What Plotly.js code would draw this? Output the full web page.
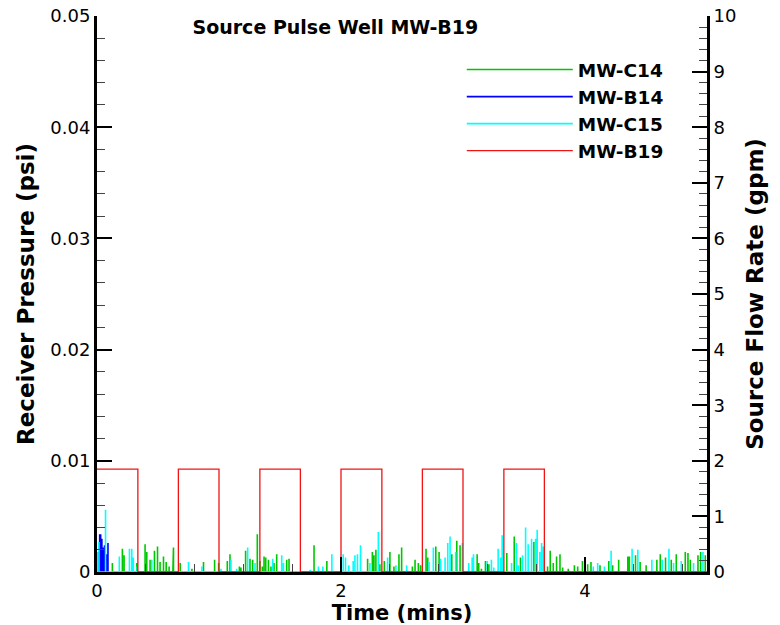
<!DOCTYPE html>
<html>
<head>
<meta charset="utf-8">
<script src="https://cdn.plot.ly/plotly-3.0.1.min.js"></script>
<style>html,body{margin:0;padding:0;background:#fff;}#chart{width:780px;height:625px;}</style>
</head>
<body>
<div id="chart"></div>
<script>
// ---- Data ----
// Receiver pressure spikes (time in mins, pressure in psi)
var c14Time = [0.126,0.208,0.222,0.326,0.394,0.408,0.435,0.471,0.496,0.517,0.545,0.567,0.591,0.622,0.627,0.682,0.778,0.873,0.964,0.997,
  1.068,1.090,1.167,1.180,1.218,1.254,1.276,1.314,1.336,1.355,1.369,1.383,1.405,1.426,1.451,1.473,1.555,1.574,1.630,1.779,1.884,
  2.218,2.257,2.270,2.286,2.319,2.355,2.401,2.434,2.475,2.497,2.585,2.607,2.634,2.653,2.697,2.711,2.777,2.804,2.908,2.949,2.976,
  3.116,3.129,3.151,3.184,3.212,3.359,3.420,3.471,3.581,3.693,3.715,3.740,3.767,3.795,3.817,3.863,3.913,3.940,3.979,
  4.022,4.049,4.123,4.195,4.227,4.276,4.351,4.364,4.414,4.452,4.501,4.589,4.617,4.660,4.707,4.748,4.822,4.844,4.863,4.926,4.948,4.986];
var c14Psi = [0.0008,0.0021,0.0015,0.0008,0.0025,0.0018,0.0011,0.0019,0.0023,0.0009,0.0014,0.0009,0.0005,0.0012,0.0022,0.0008,0.0003,0.0009,0.0011,0.0008,
  0.0010,0.0016,0.0005,0.0004,0.0019,0.0012,0.0011,0.0034,0.0010,0.0005,0.0014,0.0013,0.0011,0.0005,0.0008,0.0016,0.0011,0.0012,0.0001,0.0024,0.0010,
  0.0012,0.0018,0.0015,0.0020,0.0007,0.0010,0.0018,0.0005,0.0016,0.0022,0.0005,0.0011,0.0008,0.0006,0.0021,0.0013,0.0023,0.0018,0.0016,0.0028,0.0024,
  0.0016,0.0008,0.0003,0.0010,0.0007,0.0017,0.0032,0.0013,0.0027,0.0005,0.0019,0.0008,0.0014,0.0016,0.0004,0.0003,0.0006,0.0005,0.0010,
  0.0007,0.0009,0.0006,0.0010,0.0006,0.0011,0.0014,0.0014,0.0015,0.0009,0.0006,0.0011,0.0016,0.0013,0.0011,0.0016,0.0018,0.0017,0.0011,0.0015,0.0018,0.0015];

var b14Time = [0.012,0.022,0.030,0.040,0.052,0.062,0.078,0.090];
var b14Psi  = [0.0018,0.0034,0.0034,0.0030,0.0022,0.0024,0.0016,0.0026];

var c15Time = [0.016,0.070,0.183,0.266,0.285,0.298,0.330,0.449,0.750,0.860,
  1.016,1.098,1.145,1.235,1.295,1.440,1.514,1.528,1.747,1.815,1.851,1.925,
  2.018,2.037,2.064,2.100,2.114,2.135,2.160,2.237,2.306,2.382,2.450,2.538,2.722,2.757,2.817,2.853,2.875,2.894,2.940,2.995,
  3.047,3.075,3.086,3.198,3.233,3.252,3.288,3.310,3.321,3.398,3.439,3.453,3.488,3.513,3.534,3.562,3.595,3.608,3.630,3.644,3.658,
  4.068,4.104,4.159,4.214,4.386,4.433,4.548,4.633,4.688,4.726,4.789,4.890,4.967];
var c15Psi = [0.0027,0.0056,0.0014,0.0021,0.0021,0.0013,0.0005,0.0011,0.0009,0.0005,
  0.0003,0.0011,0.0003,0.0022,0.0008,0.0012,0.0015,0.0008,0.0002,0.0005,0.0005,0.0016,
  0.0016,0.0013,0.0006,0.0010,0.0015,0.0016,0.0024,0.0008,0.0036,0.0013,0.0006,0.0006,0.0009,0.0022,0.0012,0.0013,0.0026,0.0032,0.0018,0.0026,
  0.0008,0.0013,0.0016,0.0010,0.0011,0.0004,0.0021,0.0013,0.0033,0.0008,0.0026,0.0006,0.0015,0.0040,0.0025,0.0030,0.0030,0.0038,0.0018,0.0026,0.0023,
  0.0005,0.0008,0.0005,0.0019,0.0021,0.0020,0.0011,0.0011,0.0021,0.0008,0.0010,0.0008,0.0018];

// Source flow rate at MW-B19 (gpm), step function
var flowTime = [0, 0.335, 0.667, 1.0, 1.335, 1.667, 2.0, 2.335, 2.667, 3.0, 3.335, 3.667, 5.0];
var flowRate = [1.85, 0, 1.85, 0, 1.85, 0, 1.85, 0, 1.85, 0, 1.85, 0, 0];

var xTickVals = [0, 2, 4];
var xTickText = ['0', '2', '4'];

// ---- Build spike traces from the data ----
function spikes(times, vals) {
  var x = [], y = [];
  for (var i = 0; i < times.length; i++) {
    x.push(times[i], times[i], times[i]);
    y.push(0, vals[i], 0);
  }
  return {x: x, y: y};
}
var sC14 = spikes(c14Time, c14Psi);
var sB14 = spikes(b14Time, b14Psi);
var sC15 = spikes(c15Time, c15Psi);

var FONT = 'DejaVu Sans, Arial, sans-serif';

var traces = [
  {x: sC14.x, y: sC14.y, type: 'scatter', mode: 'lines', name: 'MW-C14',
   line: {color: 'rgb(0,200,0)', width: 1.6}},
  {x: sB14.x, y: sB14.y, type: 'scatter', mode: 'lines', name: 'MW-B14',
   line: {color: 'rgb(0,0,255)', width: 1.6}},
  {x: sC15.x, y: sC15.y, type: 'scatter', mode: 'lines', name: 'MW-C15',
   line: {color: 'rgb(0,255,255)', width: 1.6}},
  {x: flowTime, y: flowRate, type: 'scatter', mode: 'lines', name: 'MW-B19', yaxis: 'y2',
   line: {color: 'rgb(240,20,20)', width: 1.3, shape: 'hv'}}
];

var layout = {
  width: 780, height: 625,
  margin: {l: 97, r: 73, t: 16, b: 53},
  paper_bgcolor: '#fff', plot_bgcolor: '#fff',
  font: {family: FONT, color: '#000', size: 18},
  title: {text: 'Source Pulse Well MW-B19', x: 0.43, xanchor: 'center', y: 0.957, yanchor: 'middle',
          font: {family: FONT, size: 19, weight: 'bold', color: '#000'}},
  showlegend: true,
  legend: {x: 0.598, xanchor: 'left', y: 0.937, yanchor: 'top', bgcolor: 'rgba(0,0,0,0)',
           itemwidth: 106, tracegroupgap: 0,
           font: {family: FONT, size: 18.5, weight: 'bold', color: '#000'}},
  xaxis: {
    range: [0, 5], tickmode: 'array', tickvals: xTickVals, ticktext: xTickText,
    ticks: 'inside', ticklen: 15, tickwidth: 2, tickcolor: '#000',
    minor: {dtick: 0.4, ticks: 'inside', ticklen: 8, tickwidth: 1, tickcolor: '#444'},
    showline: true, linewidth: 3, linecolor: '#000', showgrid: false, zeroline: false,
    tickfont: {family: FONT, size: 18},
    title: {text: 'Time (mins)', standoff: 0, font: {family: FONT, size: 21, weight: 'bold'}}
  },
  yaxis: {
    range: [0, 0.05], dtick: 0.01, tick0: 0,
    ticks: 'inside', ticklen: 15, tickwidth: 2, tickcolor: '#000',
    minor: {dtick: 0.002, ticks: 'inside', ticklen: 8, tickwidth: 1, tickcolor: '#444'},
    showline: true, linewidth: 3, linecolor: '#000', showgrid: false, zeroline: false,
    tickfont: {family: FONT, size: 18},
    title: {text: 'Receiver Pressure (psi)', standoff: 10, font: {family: FONT, size: 23, weight: 'bold'}}
  },
  yaxis2: {
    overlaying: 'y', side: 'right', range: [0, 10], dtick: 1, tick0: 0,
    ticks: 'inside', ticklen: 15, tickwidth: 2, tickcolor: '#000',
    minor: {dtick: 0.2, ticks: 'inside', ticklen: 8, tickwidth: 1, tickcolor: '#444'},
    showline: true, linewidth: 3, linecolor: '#000', showgrid: false, zeroline: false,
    tickfont: {family: FONT, size: 18},
    title: {text: 'Source Flow Rate (gpm)', standoff: 12, font: {family: FONT, size: 23, weight: 'bold'}}
  }
};

Plotly.newPlot('chart', traces, layout, {displayModeBar: false, staticPlot: true});
</script>
</body>
</html>
